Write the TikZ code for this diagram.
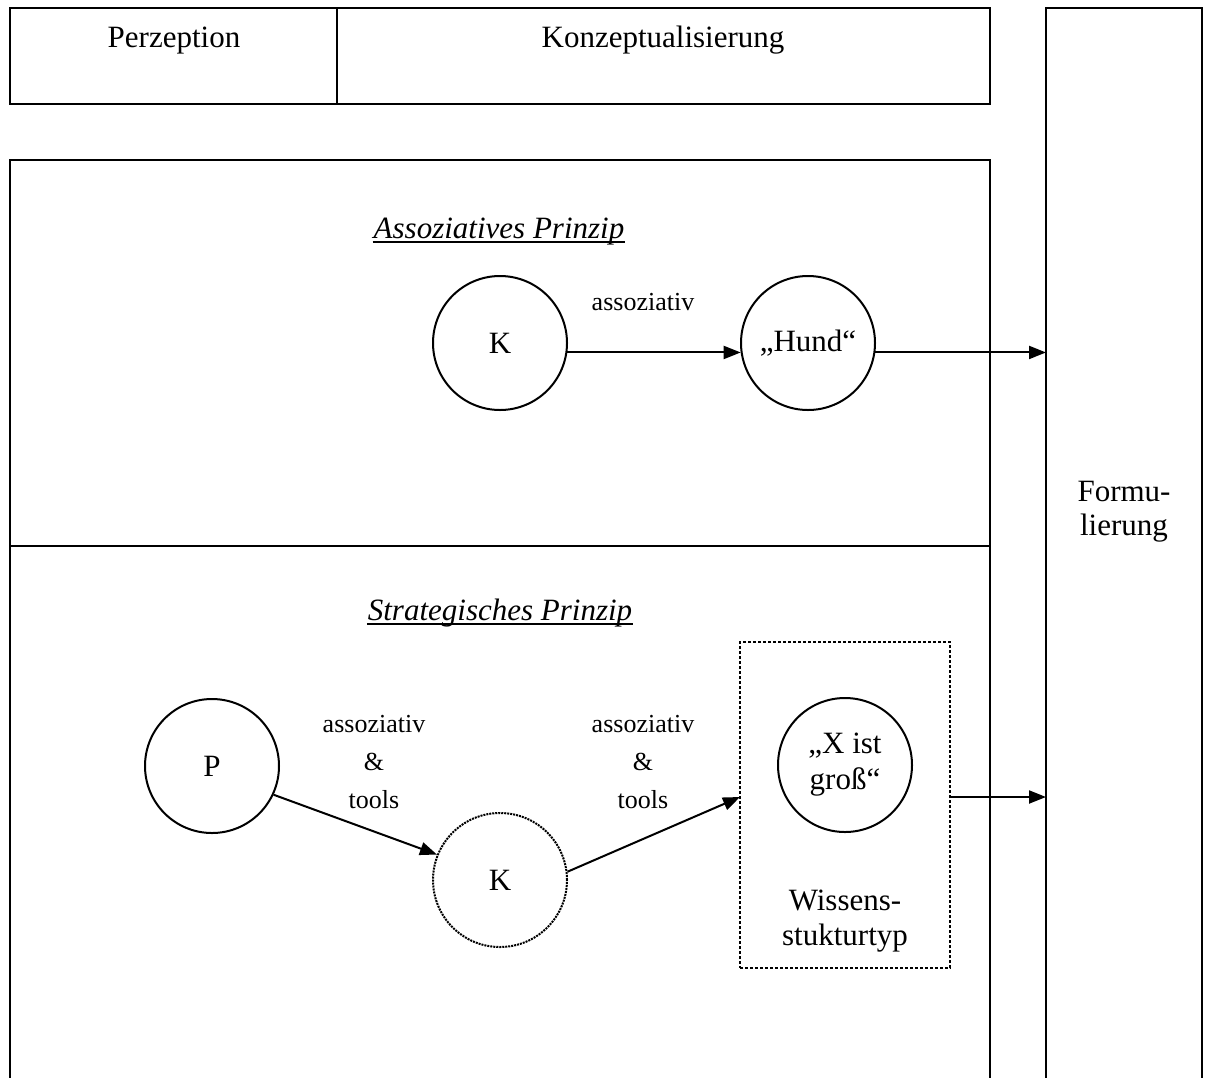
\documentclass[tikz,border=0pt]{standalone}
\usepackage{fontspec}
\setmainfont{Liberation Serif}
\usetikzlibrary{arrows.meta}
\begin{document}
\begin{tikzpicture}[x=1pt,y=-1pt,
  line width=2pt,
  frame/.style={draw, rectangle, inner sep=0pt, outer sep=0pt, anchor=north west},
  txt/.style={font=\fontsize{31}{34}\selectfont, inner sep=0pt, anchor=base},
  head/.style={txt, font=\fontsize{31}{34}\selectfont\itshape},
  lbl/.style={font=\fontsize{26}{38}\selectfont, inner sep=0pt, align=center},
  concept/.style={draw, circle, minimum size=134pt, inner sep=0pt, align=center,
    font=\fontsize{31}{36}\selectfont},
  vague/.style={concept, densely dotted},
  arr/.style={-{Triangle[length=17pt,width=13pt]}, line width=2pt},
]
\useasboundingbox (0,0) rectangle (1207,1077);

% stage boxes along the top
\node[frame, minimum width=327pt, minimum height=96pt] (perz) at (10,8) {};
\node[frame, minimum width=653pt, minimum height=96pt] (konz) at (337,8) {};
\node[txt] (perzT) at (174,47) {Perzeption};
\node[txt] (konzT) at (663,47) {Konzeptualisierung};

% formulation column (open at the bottom)
\node[frame, minimum width=156pt, minimum height=1100pt] (F) at (1046,8) {};
\node[txt, align=center] (FT) at (1124,535) {Formu-\\lierung};

% the two principles (open at the bottom)
\node[frame, minimum width=980pt, minimum height=386pt] (assoc) at (10,160) {};
\node[frame, minimum width=980pt, minimum height=560pt] (strat) at (10,546) {};

\node[head] (ha) at (499,238) {Assoziatives Prinzip};
\draw[line width=1.7pt] ([yshift=-4pt]ha.base west) -- ([yshift=-4pt]ha.base east);
\node[head] (hs) at (500,620) {Strategisches Prinzip};
\draw[line width=1.7pt] ([yshift=-4pt]hs.base west) -- ([yshift=-4pt]hs.base east);

% associative path
\node[concept] (K1) at (500,343) {K};
\node[concept] (H) at (808,343) {„Hund“};
\node[lbl, anchor=base] (l1) at (643,310) {assoziativ};
\draw[arr] (K1.-8.6) -- (H.188.6);
\draw[arr] (H.-8.6) -- (H.-8.6 -| F.west);

% strategic path
\node[concept] (P) at (212,766) {P};
\node[vague] (K2) at (500,880) {K};
\node[frame, densely dashed, minimum width=210pt, minimum height=326pt] (W) at (740,642) {};
\node[concept] (X) at (845,765) {„X ist\\groß“};
\node[txt, align=center, font=\fontsize{31}{35}\selectfont] (WT) at (845,945) {Wissens-\\stukturtyp};
\node[lbl] (l2) at (374,762) {assoziativ\\\&\\tools};
\node[lbl] (l3) at (643,762) {assoziativ\\\&\\tools};
\draw[arr] (P.-25) -- (K2.158);
\draw[arr] (K2.7.7) -- ([yshift=8pt]W.west);
\draw[arr] ([yshift=8pt]W.east) -- ([yshift=8pt]W.east -| F.west);
\end{tikzpicture}
\end{document}
